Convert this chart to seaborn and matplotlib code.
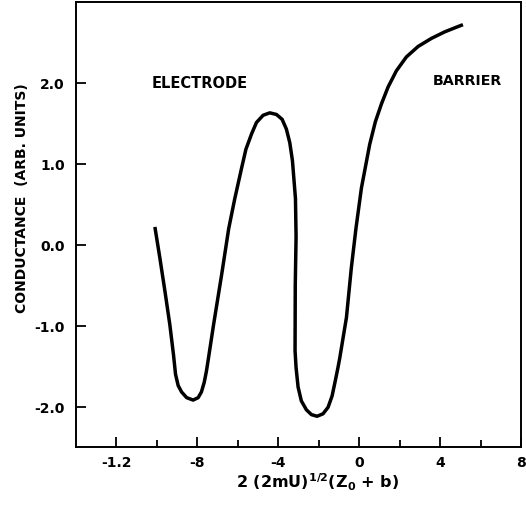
import matplotlib
matplotlib.use("Agg")
import matplotlib.pyplot as plt
import seaborn as sns
import pandas as pd
from matplotlib.ticker import FixedLocator

# Curve (parametric: x doubles back near -3)
x_vals = [-10.10, -9.85, -9.60, -9.36, -9.18, -9.08, -8.95, -8.78, -8.53, -8.21, -7.96, -7.80,
          -7.66, -7.55, -7.45, -7.20, -6.80, -6.45, -6.15, -5.82, -5.60, -5.32, -5.08, -4.75,
          -4.42, -4.09, -3.81, -3.60, -3.43, -3.30, -3.15, -3.12, -3.16, -3.17, -3.12, -3.02,
          -2.86, -2.61, -2.36, -2.08, -1.79, -1.54, -1.34, -1.18, -1.05, -0.96, -0.63, -0.39,
          -0.16, 0.11, 0.52, 0.80, 1.10, 1.43, 1.84, 2.33, 2.91, 3.57, 4.22, 4.72, 5.13]
y_vals = [0.22, -0.17, -0.58, -0.99, -1.36, -1.60, -1.74, -1.82, -1.89, -1.92, -1.89, -1.82,
          -1.70, -1.56, -1.40, -0.99, -0.37, 0.20, 0.57, 0.94, 1.18, 1.37, 1.51, 1.60,
          1.63, 1.61, 1.55, 1.43, 1.26, 1.04, 0.57, 0.10, -0.50, -1.31, -1.52, -1.76,
          -1.93, -2.04, -2.10, -2.12, -2.09, -2.01, -1.87, -1.68, -1.52, -1.40, -0.90, -0.29,
          0.20, 0.70, 1.24, 1.52, 1.74, 1.95, 2.15, 2.32, 2.45, 2.55, 2.63, 2.68, 2.72]

x_ticks = [-12, -8, -4, 0, 4, 8]
x_tick_labels = ["-1.2", "-8", "-4", "0", "4", "8"]
x_minor = [-10, -6, -2, 2, 6]
y_ticks = [2.0, 1.0, 0.0, -1.0, -2.0]
y_tick_labels = ["2.0", "1.0", "0.0", "-1.0", "-2.0"]

df = pd.DataFrame({"x": x_vals, "y": y_vals})

sns.set_style("ticks")
plt.rcParams["font.family"] = ["DejaVu Sans"]
plt.rcParams["mathtext.default"] = "bf"
plt.rcParams["text.color"] = "black"
plt.rcParams["xtick.color"] = "black"
plt.rcParams["ytick.color"] = "black"

fig = plt.figure(figsize=(5.26, 5.06), dpi=100)
ax = fig.add_axes([76/526, 1-448/506, (521-76)/526, (448-3)/506])

sns.lineplot(data=df, x="x", y="y", sort=False, estimator=None, color="black",
             linewidth=2.5, ax=ax)
ax.lines[0].set_solid_joinstyle("round")
ax.lines[0].set_solid_capstyle("butt")

ax.set_xlim(-14, 8)
ax.set_ylim(-2.5, 3.0)
ax.set_xticks(x_ticks)
ax.set_xticklabels(x_tick_labels, fontweight="bold", fontsize=10, color="black")
ax.xaxis.set_minor_locator(FixedLocator(x_minor))
ax.set_yticks(y_ticks)
ax.set_yticklabels(y_tick_labels, fontweight="bold", fontsize=10, color="black")

ax.tick_params(axis="both", which="major", direction="in", length=7, width=1.3, color="black")
ax.tick_params(axis="x", which="minor", direction="in", length=5, width=1.3, color="black")
ax.tick_params(axis="y", which="major", pad=8)
ax.tick_params(axis="x", which="major", pad=6)
for s in ax.spines.values():
    s.set_visible(True)
    s.set_linewidth(1.4)
    s.set_color("black")

ax.set_xlabel("")
ax.set_ylabel("")
fig.text(22/526, 1-198/506, "CONDUCTANCE  (ARB. UNITS)", rotation=90, ha="center", va="center",
         fontsize=10, fontweight="bold", color="black")
fig.text(318/526, 1-482/506, r"2 (2mU)$^{1/2}$(Z$_0$ + b)", ha="center", va="center",
         fontsize=11.5, fontweight="bold", color="black")

ax.text(-7.88, 2.0, "ELECTRODE", ha="center", va="center", fontsize=10.5, fontweight="bold",
        color="black")
ax.text(5.33, 2.03, "BARRIER", ha="center", va="center", fontsize=10.3, fontweight="bold",
        color="black")

fig.savefig("out.png", dpi=100)
